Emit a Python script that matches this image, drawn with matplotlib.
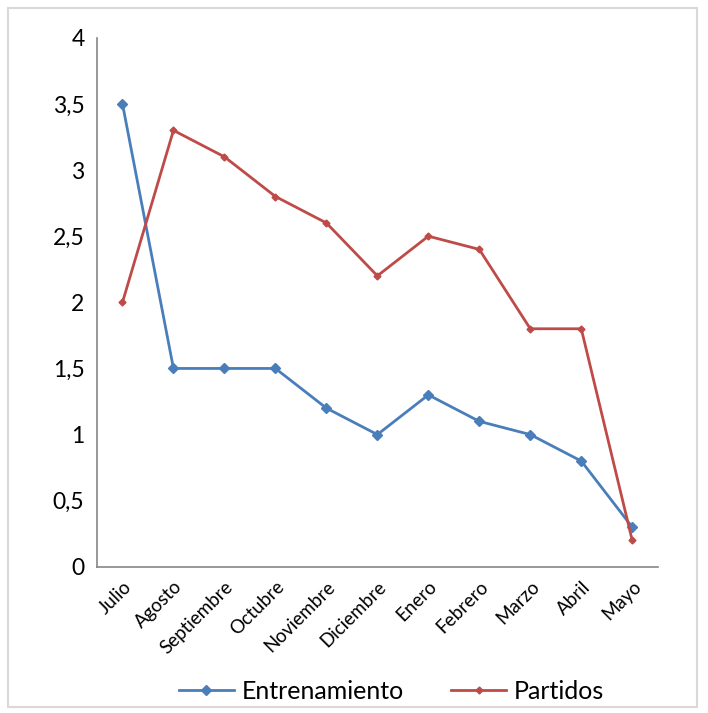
import matplotlib.pyplot as plt
from matplotlib.patches import Rectangle
from matplotlib.ticker import FuncFormatter

meses = ["Julio", "Agosto", "Septiembre", "Octubre", "Noviembre", "Diciembre",
         "Enero", "Febrero", "Marzo", "Abril", "Mayo"]
entrenamiento = [3.5, 1.5, 1.5, 1.5, 1.2, 1.0, 1.3, 1.1, 1.0, 0.8, 0.3]
partidos = [2.0, 3.3, 3.1, 2.8, 2.6, 2.2, 2.5, 2.4, 1.8, 1.8, 0.2]

plt.rcParams['font.family'] = ['Lato', 'DejaVu Sans']

fig = plt.figure(figsize=(7.08, 7.13), dpi=100)
ax = fig.add_axes([0.137, 0.205, 0.792, 0.742])

# light frame around the whole chart
fig.patches.append(Rectangle((0.011, 0.008), 0.974, 0.981, transform=fig.transFigure,
                             fill=False, edgecolor="#d9d9d9", linewidth=1.5))

x = range(len(meses))
ax.plot(x, entrenamiento, color="#4a7ebb", linewidth=2, marker="D", markersize=5,
        label="Entrenamiento")
ax.plot(x, partidos, color="#be4b48", linewidth=2, marker="D", markersize=3.5,
        label="Partidos")

ax.set_xlim(-0.5, len(meses) - 0.5)
ax.set_ylim(0, 4)
ax.set_yticks([0, 0.5, 1, 1.5, 2, 2.5, 3, 3.5, 4])
ax.yaxis.set_major_formatter(FuncFormatter(lambda v, p: f"{v:g}".replace(".", ",")))
ax.set_xticks(list(x))
ax.set_xticklabels(meses, rotation=45, ha="right", rotation_mode="anchor", fontsize=13.5)
ax.tick_params(axis="y", length=0, labelsize=16.5, pad=9)
ax.tick_params(axis="x", length=0, pad=8)

for s in ["top", "right"]:
    ax.spines[s].set_visible(False)
for s in ["left", "bottom"]:
    ax.spines[s].set_color("#868686")
    ax.spines[s].set_linewidth(1.2)

ax.legend(loc="center", bbox_to_anchor=(0.525, -0.235), ncol=2, frameon=False,
          fontsize=18, handlelength=2.2, columnspacing=1.9, handletextpad=0.3)

fig.savefig("out.png", dpi=100)
